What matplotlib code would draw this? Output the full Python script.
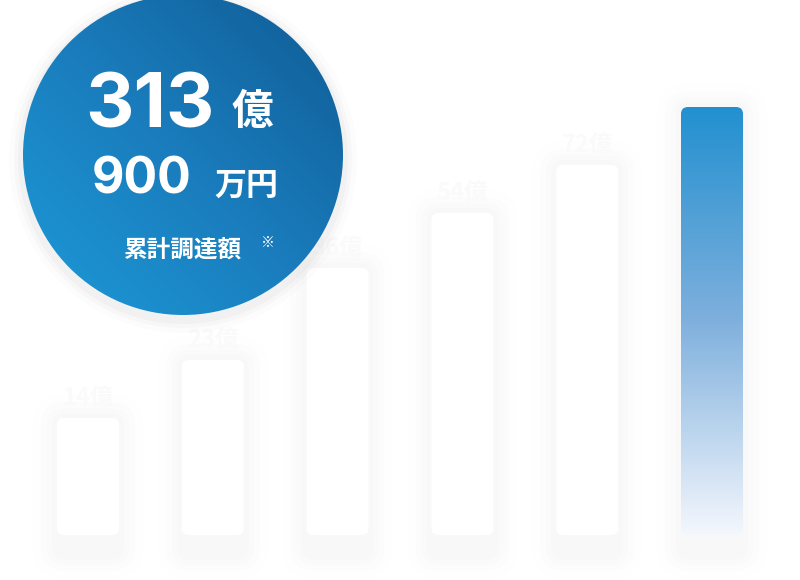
import numpy as np
import matplotlib
matplotlib.use("Agg")
import matplotlib.pyplot as plt
from matplotlib.patches import FancyBboxPatch, Circle

plt.rcParams['font.family'] = ['Noto Sans CJK JP', 'DejaVu Sans']

years = ["2020", "2021", "2022", "2023", "2024", "2025"]
value_labels = ["14億", "23億", "36億", "54億", "72億", ""]
bar_heights = [117, 175, 267, 322, 370, 428]  # drawn height (px units)
total_big = "313"
total_small = "900"

fig = plt.figure(figsize=(8, 5.8), dpi=100)
ax = fig.add_axes([0, 0, 1, 1])
ax.set_xlim(0, 800)
ax.set_ylim(580, 0)
ax.axis("off")

base = 535
w = 62
centers = [88 + 124.8 * i for i in range(len(years))]

for i, (cx, h) in enumerate(zip(centers, bar_heights)):
    x0, y0 = cx - w / 2, base - h
    # soft shadow
    for k, a in zip([24, 16, 10, 5], [0.005, 0.006, 0.007, 0.008]):
        ax.add_patch(FancyBboxPatch((x0 - k, y0 - k), w + 2 * k, h + 2 * k + 20,
                                    boxstyle="round,pad=0,rounding_size=%d" % (8 + k),
                                    fc="#000000", ec="none", alpha=a, zorder=1))
    box = FancyBboxPatch((x0, y0), w, h, boxstyle="round,pad=0,rounding_size=7",
                         fc="white", ec="none", zorder=2)
    ax.add_patch(box)
    if i == len(years) - 1:
        grad = np.linspace(0, 1, 256)[:, None]
        cmap = matplotlib.colors.LinearSegmentedColormap.from_list(
            "g", ["#2290d0", "#7fb0dd", "#f4f7fd"])
        im = ax.imshow(grad, cmap=cmap, extent=(x0, x0 + w, base, y0),
                       aspect="auto", zorder=3)
        im.set_clip_path(box)
    ax.text(cx, y0 - 8, value_labels[i], ha="center", va="bottom",
            fontsize=17, fontweight="bold", color="#fafafa", zorder=3)
    ax.text(cx, base + 20, years[i], ha="center", va="center",
            fontsize=14, color="#f8f8f8", zorder=3)

# circle with gradient
ccx, ccy, r = 183, 155, 160
for k, a in zip([14, 9, 5], [0.012, 0.018, 0.025]):
    ax.add_patch(Circle((ccx, ccy + 4), r + k, fc="#000000", ec="none", alpha=a, zorder=4))
circ = Circle((ccx, ccy), r, fc="none", ec="none", zorder=5)
ax.add_patch(circ)
yy, xx = np.mgrid[0:1:200j, 0:1:200j]
t = (xx + (1 - yy)) / 2
cmap2 = matplotlib.colors.LinearSegmentedColormap.from_list("c", ["#1d9ad8", "#1a7cbc", "#0f5b93"])
im2 = ax.imshow(t, cmap=cmap2, extent=(ccx - r, ccx + r, ccy + r, ccy - r),
                aspect="auto", zorder=5)
im2.set_clip_path(circ)

ax.text(150, 108, total_big, ha="center", va="center", fontsize=54,
        fontweight="bold", color="white", zorder=6, family="Inter")
ax.text(252, 112, "億", ha="center", va="center", fontsize=30,
        fontweight="bold", color="white", zorder=6)
ax.text(142, 180, total_small, ha="center", va="center", fontsize=36,
        fontweight="bold", color="white", zorder=6, family="Inter")
ax.text(246, 186, "万円", ha="center", va="center", fontsize=23,
        fontweight="bold", color="white", zorder=6)
ax.text(183, 250, "累計調達額", ha="center", va="center", fontsize=17,
        fontweight="bold", color="white", zorder=6)
ax.text(268, 243, "※", ha="center", va="center", fontsize=10, color="white", zorder=6)

fig.savefig("out.png", dpi=100)
